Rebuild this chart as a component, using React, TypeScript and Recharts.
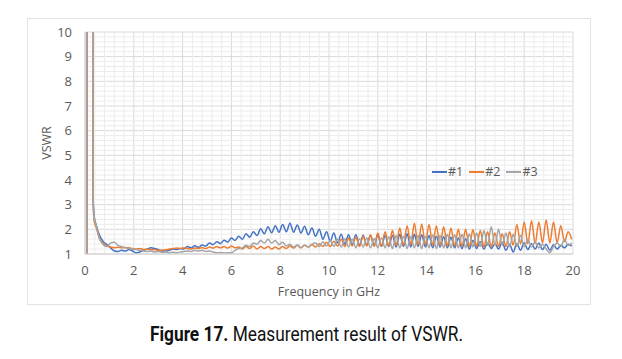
import { LineChart, Line, XAxis, YAxis, CartesianGrid, ReferenceLine, Legend, Label } from 'recharts'

// frequency grid (GHz): a few points for the low-frequency spike, then 0.15 GHz steps
const FREQ_HEAD = [0.08, 0.09, 0.28, 0.33, 0.38]
const FREQ_BODY = Array.from({ length: 131 }, (_, i) => +(0.45 + 0.15 * i).toFixed(2))
const FREQ = [...FREQ_HEAD, ...FREQ_BODY]

// #1 (blue)
const VSWR_1 = [
  1.0, 40, 40, 3.4, 2.5,
  2.2, 1.75, 1.5, 1.38, 1.25, 1.12, 1.1, 1.15, 1.12, 1.18,
  1.12, 1.05, 1.08, 1.15, 1.2, 1.25, 1.22, 1.18, 1.12, 1.12,
  1.15, 1.2, 1.18, 1.22, 1.2, 1.3, 1.25, 1.33, 1.27, 1.36,
  1.32, 1.45, 1.38, 1.5, 1.42, 1.56, 1.48, 1.65, 1.55, 1.72,
  1.6, 1.82, 1.68, 1.9, 1.75, 2.02, 1.82, 2.1, 1.86, 2.15,
  1.88, 2.2, 1.9, 2.25, 1.88, 2.18, 1.85, 2.12, 1.78, 2.05,
  1.72, 2.0, 1.6, 1.9, 1.52, 1.85, 1.45, 1.8, 1.4, 1.78,
  1.38, 1.78, 1.36, 1.76, 1.35, 1.75, 1.33, 1.78, 1.3, 1.75,
  1.3, 1.75, 1.28, 1.8, 1.3, 1.82, 1.28, 1.8, 1.3, 1.78,
  1.28, 1.75, 1.25, 1.72, 1.28, 1.7, 1.25, 1.68, 1.25, 1.65,
  1.22, 1.62, 1.2, 1.55, 1.22, 1.5, 1.2, 1.45, 1.22, 1.42,
  1.2, 1.48, 1.15, 1.4, 1.08, 1.42, 1.15, 1.45, 1.18, 1.42,
  1.2, 1.45, 1.18, 1.4, 1.15, 1.38, 1.2, 1.35, 1.25, 1.4,
  1.32,
]

// #2 (orange)
const VSWR_2 = [
  1.0, 40, 40, 3.2, 2.3,
  2.1, 1.6, 1.42, 1.32, 1.28, 1.25, 1.27, 1.25, 1.26, 1.25,
  1.22, 1.2, 1.22, 1.18, 1.2, 1.17, 1.18, 1.15, 1.16, 1.17,
  1.2, 1.22, 1.24, 1.22, 1.25, 1.22, 1.2, 1.24, 1.22, 1.26,
  1.22, 1.28, 1.24, 1.3, 1.25, 1.3, 1.24, 1.32, 1.25, 1.28,
  1.2, 1.3, 1.22, 1.32, 1.2, 1.3, 1.22, 1.3, 1.2, 1.28,
  1.2, 1.3, 1.22, 1.32, 1.24, 1.35, 1.25, 1.35, 1.28, 1.38,
  1.28, 1.42, 1.3, 1.48, 1.3, 1.52, 1.32, 1.6, 1.3, 1.65,
  1.32, 1.68, 1.3, 1.72, 1.32, 1.78, 1.3, 1.85, 1.32, 1.9,
  1.32, 1.95, 1.35, 2.05, 1.35, 2.15, 1.38, 2.25, 1.35, 2.22,
  1.38, 2.2, 1.35, 2.15, 1.35, 2.1, 1.32, 2.05, 1.32, 2.0,
  1.3, 2.0, 1.3, 1.98, 1.3, 1.95, 1.28, 1.9, 1.3, 1.85,
  1.3, 1.82, 1.3, 1.9, 1.35, 2.2, 1.4, 2.3, 1.42, 2.35,
  1.42, 2.3, 1.45, 2.38, 1.45, 2.3, 1.45, 2.15, 1.5, 1.9,
  1.6,
]

// #3 (grey)
const VSWR_3 = [
  1.0, 40, 40, 3.3, 2.4,
  2.2, 1.62, 1.38, 1.3, 1.45, 1.48, 1.35, 1.3, 1.25, 1.22,
  1.2, 1.18, 1.15, 1.12, 1.1, 1.12, 1.08, 1.1, 1.07, 1.08,
  1.05, 1.07, 1.05, 1.08, 1.1, 1.12, 1.1, 1.15, 1.12, 1.15,
  1.1, 1.12, 1.08, 1.05, 1.06, 1.04, 1.05, 1.05, 1.15, 1.22,
  1.25, 1.35, 1.3, 1.45, 1.4, 1.55, 1.45, 1.6, 1.45, 1.55,
  1.38, 1.48, 1.32, 1.4, 1.28, 1.36, 1.26, 1.35, 1.28, 1.4,
  1.45, 1.3, 1.5, 1.32, 1.55, 1.3, 1.6, 1.28, 1.62, 1.28,
  1.6, 1.25, 1.62, 1.28, 1.65, 1.25, 1.62, 1.25, 1.65, 1.25,
  1.7, 1.22, 1.75, 1.25, 1.72, 1.22, 1.7, 1.25, 1.75, 1.22,
  1.72, 1.25, 1.78, 1.22, 1.75, 1.25, 1.8, 1.25, 1.78, 1.25,
  1.8, 1.25, 1.82, 1.28, 1.85, 1.3, 1.95, 1.35, 2.1, 1.35,
  2.0, 1.35, 1.85, 1.3, 1.8, 1.3, 1.75, 1.3, 1.6, 1.28,
  1.5, 1.25, 1.4, 1.2, 1.05, 1.3, 1.45, 1.3, 1.6, 1.35,
  1.45,
]

const X_TICKS = [0, 2, 4, 6, 8, 10, 12, 14, 16, 18, 20]
const Y_TICKS = [1, 2, 3, 4, 5, 6, 7, 8, 9, 10]
const MINOR_X = Array.from({ length: 49 }, (_, i) => +(0.4 * (i + 1)).toFixed(1)).filter(v => v % 2 !== 0)
const MINOR_Y = Array.from({ length: 44 }, (_, i) => +(1.2 + 0.2 * i).toFixed(1)).filter(v => v % 1 !== 0)

const SERIES = [
  { key: 's1', name: '#1', color: '#4472c4' },
  { key: 's2', name: '#2', color: '#ed7d31' },
  { key: 's3', name: '#3', color: '#a5a5a5' },
]

const rows = FREQ.map((f, i) => ({ f, s1: VSWR_1[i], s2: VSWR_2[i], s3: VSWR_3[i] }))

const FONT = '"Open Sans", sans-serif'
const TEXT = '#595959'

function LegendBox() {
  return (
    <div style={{ display: 'flex', alignItems: 'center', fontFamily: FONT, fontSize: 12.5, color: TEXT }}>
      {SERIES.map(s => (
        <div key={s.key} style={{ display: 'flex', alignItems: 'center', marginRight: 6 }}>
          <span style={{ display: 'inline-block', width: 15, height: 2, background: s.color }} />
          <span style={{ marginLeft: 1 }}>{s.name}</span>
        </div>
      ))}
    </div>
  )
}

export default function App() {
  return (
    <div style={{ position: 'absolute', left: 0, top: 0, width: 622, height: 359, background: '#fff' }}>
      <div style={{ position: 'absolute', left: 27, top: 18, width: 564, height: 287, boxSizing: 'border-box', border: '1px solid #e3e3e3' }} />
      <div style={{ position: 'absolute', left: 27, top: 18 }}>
        <LineChart width={564} height={287} data={rows} margin={{ top: 14, right: 18, left: 0, bottom: 0 }}>
          {MINOR_X.map(v => (
            <ReferenceLine key={'mx' + v} x={v} stroke="#ececec" strokeWidth={1} />
          ))}
          {MINOR_Y.map(v => (
            <ReferenceLine key={'my' + v} y={v} stroke="#ececec" strokeWidth={1} />
          ))}
          <CartesianGrid stroke="#d9d9d9" />
          <XAxis
            dataKey="f"
            type="number"
            domain={[0, 20]}
            ticks={X_TICKS}
            height={51}
            tickSize={0}
            tickMargin={12}
            axisLine={{ stroke: '#d0d0d0' }}
            tick={{ fill: TEXT, fontSize: 13, fontFamily: FONT }}
          >
            <Label value="Frequency in GHz" position="insideBottom" offset={9} fill={TEXT} fontSize={12.5} fontFamily={FONT} />
          </XAxis>
          <YAxis
            type="number"
            domain={[1, 10]}
            ticks={Y_TICKS}
            allowDataOverflow
            width={58}
            tickSize={0}
            tickMargin={13}
            axisLine={{ stroke: '#d0d0d0' }}
            tick={{ fill: TEXT, fontSize: 13, fontFamily: FONT }}
          >
            <Label value="VSWR" angle={-90} position="center" dx={-9} fill={TEXT} fontSize={12.5} fontFamily={FONT} />
          </YAxis>
          <Legend
            verticalAlign="middle"
            align="center"
            content={() => <LegendBox />}
            wrapperStyle={{ left: 405, top: 145, width: 140 }}
          />
          {SERIES.map(s => (
            <Line
              key={s.key}
              type="monotone"
              dataKey={s.key}
              name={s.name}
              stroke={s.color}
              strokeWidth={1.5}
              dot={false}
              isAnimationActive={false}
            />
          ))}
        </LineChart>
      </div>
      <div
        style={{
          position: 'absolute',
          left: 150,
          top: 322,
          whiteSpace: 'nowrap',
          fontFamily: 'Roboto, sans-serif',
          fontSize: 20,
          color: '#111',
          transform: 'scaleX(0.865)',
          transformOrigin: 'left top',
        }}
      >
        <b>Figure 17.</b> Measurement result of VSWR.
      </div>
    </div>
  )
}
